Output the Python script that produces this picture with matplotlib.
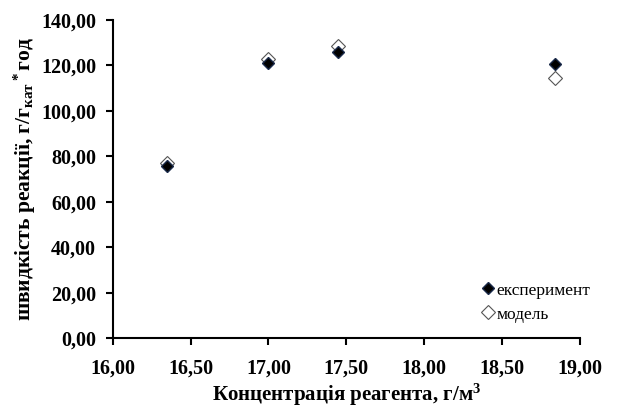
import matplotlib
matplotlib.use("Agg")
import matplotlib.pyplot as plt
from matplotlib.ticker import FuncFormatter, MultipleLocator

plt.rcParams['font.family'] = ['Liberation Serif', 'DejaVu Serif']
plt.rcParams['font.weight'] = 'bold'
plt.rcParams['mathtext.fontset'] = 'custom'
plt.rcParams['mathtext.rm'] = 'Liberation Serif:bold'
plt.rcParams['mathtext.it'] = 'Liberation Serif:bold'
plt.rcParams['mathtext.bf'] = 'Liberation Serif:bold'

# концентрація реагента, г/м3
concentration = [16.35, 17.00, 17.45, 18.84]
# швидкість реакції: експеримент та модель
rate_exp = [75.5, 121.0, 125.8, 120.4]
rate_model = [76.9, 122.6, 128.3, 114.2]

fig = plt.figure(figsize=(6.2, 4.19), dpi=100)
ax = fig.add_axes([0.182, 0.193, 0.753, 0.76])

ax.plot(concentration, rate_exp, linestyle='none', marker='D', markersize=6.5,
        color='black', markeredgecolor='#1a2a4a', label='експеримент', zorder=3)
ax.plot(concentration, rate_model, linestyle='none', marker='D', markersize=7,
        markerfacecolor='white', markeredgecolor='#555555', markeredgewidth=0.8,
        label='модель', zorder=2)

ax.set_xlim(16, 19)
ax.set_ylim(0, 140)
ax.xaxis.set_major_locator(MultipleLocator(0.5))
ax.yaxis.set_major_locator(MultipleLocator(20))
comma = FuncFormatter(lambda v, p: f"{v:.2f}".replace('.', ','))
ax.xaxis.set_major_formatter(comma)
ax.yaxis.set_major_formatter(comma)

for side in ['top', 'right']:
    ax.spines[side].set_visible(False)
for side in ['left', 'bottom']:
    ax.spines[side].set_linewidth(1.5)
ax.tick_params(direction='out', length=5, width=1.5, labelsize=14.5)
ax.tick_params(axis='x', pad=10)
ax.tick_params(axis='y', pad=7)

ax.set_xlabel('Концентрація реагента, г/м$^{3}$', fontsize=15, fontweight='bold', labelpad=2)
ax.set_ylabel('швидкість реакції, г/г$_{кат}$$^*$год', fontsize=15.5, fontweight='bold', labelpad=2)

leg = ax.legend(loc='lower right', bbox_to_anchor=(1.057, 0.0), frameon=False,
                prop={'family': 'Liberation Serif', 'weight': 'normal', 'size': 12.5},
                handletextpad=0.0, handlelength=1.0, labelspacing=0.45)

fig.savefig('out.png', dpi=100)
